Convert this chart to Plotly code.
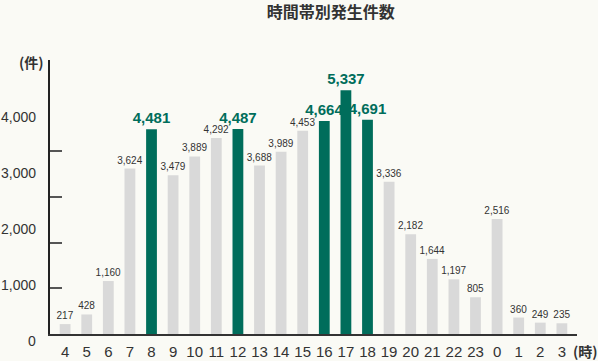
import plotly.graph_objects as go

# ---- data ----
hours = ['4', '5', '6', '7', '8', '9', '10', '11', '12', '13', '14', '15',
         '16', '17', '18', '19', '20', '21', '22', '23', '0', '1', '2', '3']
counts = [217, 428, 1160, 3624, 4481, 3479, 3889, 4292, 4487, 3688, 3989, 4453,
          4664, 5337, 4691, 3336, 2182, 1644, 1197, 805, 2516, 360, 249, 235]
highlight_hours = ['8', '12', '16', '17', '18']
y_tick_labels = ['0', '1,000', '2,000', '3,000', '4,000']
y_tick_marks = [0, 1000, 2000, 3000, 4000, 6000]
Y_MAX = 6000

# ---- style ----
GREEN = '#006d5b'
GREY = '#d9d9d9'
TEXT = '#333333'
BG = '#fafaf5'
FONT = 'Liberation Sans, Arial, Noto Sans CJK JP, sans-serif'
CJK = 'Noto Sans CJK JP, sans-serif'
# the reference draws its y labels on their own spacing, offset from the ticks
LABEL_OFFSET = -153
LABEL_STEP = 1225

is_hi = [h in highlight_hours for h in hours]
colors = [GREEN if hi else GREY for hi in is_hi]
texts = [f'<b>{v:,}</b>' if hi else f'{v:,}' for v, hi in zip(counts, is_hi)]
tsizes = [15 if hi else 10 for hi in is_hi]
tcolors = [GREEN if hi else TEXT for hi in is_hi]

fig = go.Figure()
fig.add_bar(
    x=hours, y=counts, width=0.5,
    marker=dict(color=colors, line=dict(width=0)),
    text=texts, textposition='outside',
    textfont=dict(size=tsizes, color=tcolors, family=FONT),
    constraintext='none', cliponaxis=False,
    hoverinfo='x+y', showlegend=False,
)

annotations = [
    dict(text=lab, xref='paper', yref='paper', x=-0.023,
         y=(LABEL_OFFSET + i * LABEL_STEP) / Y_MAX,
         xanchor='right', yanchor='middle', showarrow=False,
         font=dict(size=14, color=TEXT, family=FONT))
    for i, lab in enumerate(y_tick_labels)
]
annotations += [
    dict(text='<b>(件)</b>', xref='paper', yref='paper', x=-0.036, y=0.993,
         xanchor='center', yanchor='middle', showarrow=False,
         font=dict(size=14, color=TEXT, family=CJK)),
    dict(text='<b>(時)</b>', xref='paper', yref='paper', x=1.017, y=-0.062,
         xanchor='center', yanchor='middle', showarrow=False,
         font=dict(size=14, color=TEXT, family=CJK)),
]

fig.update_layout(
    width=598, height=361,
    margin=dict(l=50, r=21, t=60, b=27),
    paper_bgcolor=BG, plot_bgcolor=BG,
    font=dict(family=FONT, color=TEXT),
    title=dict(text='<b>時間帯別発生件数</b>', x=0.553, xanchor='center',
               y=0.965, yanchor='middle',
               font=dict(size=16, color=TEXT, family=CJK)),
    xaxis=dict(
        type='category', range=[-0.7, 23.7],
        showgrid=False, zeroline=False,
        showline=True, linecolor='#333333', linewidth=1.5,
        ticks='', tickfont=dict(size=15, color=TEXT, family=FONT),
        ticklabelstandoff=3, automargin=False,
    ),
    yaxis=dict(
        range=[0, Y_MAX],
        showgrid=False, zeroline=False,
        showline=True, linecolor='#222222', linewidth=1.5,
        tickmode='array', tickvals=y_tick_marks,
        ticks='inside', ticklen=12, tickwidth=2, tickcolor='#555555',
        showticklabels=False, automargin=False,
    ),
    annotations=annotations,
)

fig.write_html(
    'out.html',
    config={'displayModeBar': False},
    post_script="document.body.style.margin='0';document.body.style.overflow='hidden';",
)
